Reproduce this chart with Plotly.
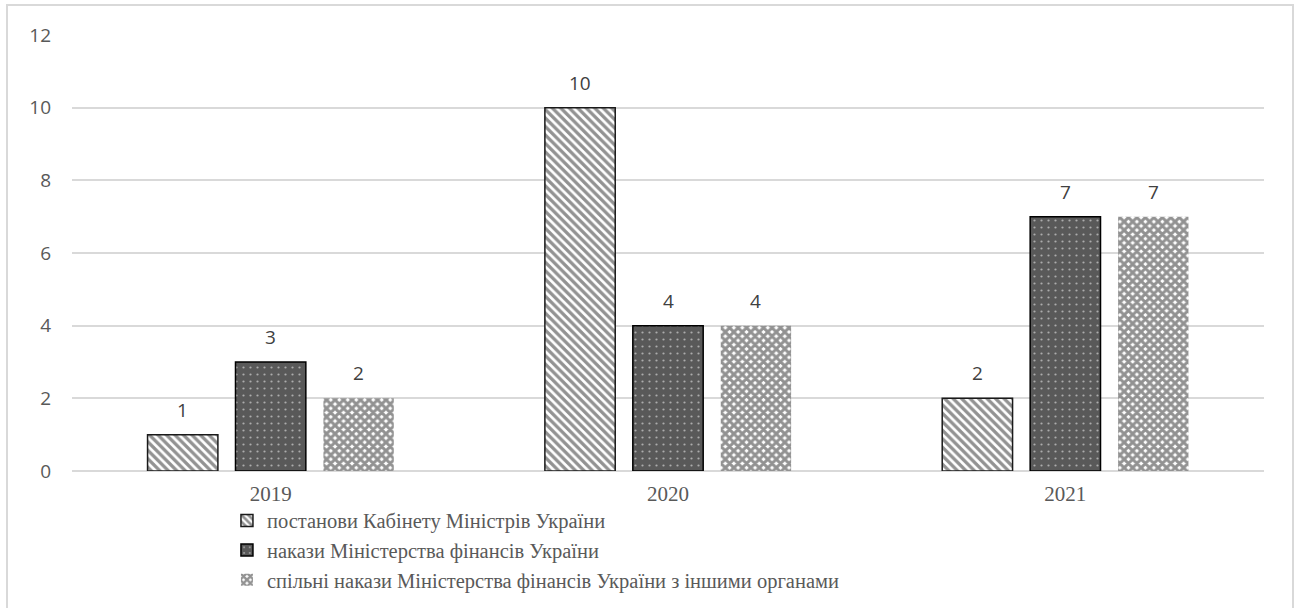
import plotly.graph_objects as go

years = ["2019", "2020", "2021"]
series_names = [
    "постанови Кабінету Міністрів України",
    "накази Міністерства фінансів України",
    "спільні накази Міністерства фінансів України з іншими органами",
]
resolutions = [1, 10, 2]
minfin_orders = [3, 4, 7]
joint_orders = [2, 4, 7]
y_ticks = [0, 2, 4, 6, 8, 10, 12]

W, H = 1299, 608
M_L, M_R, M_T, M_B = 72, 35, 35, 137
BARGAP = 0.336
BARGROUPGAP = 0.2

SANS = "Open Sans"
SERIF = "Liberation Serif"

series_values = [resolutions, minfin_orders, joint_orders]
styles = [
    dict(color="white", line=dict(color="#1a1a1a", width=1.5),
         pattern=dict(shape="\\", fgcolor="#262626", bgcolor="white",
                      size=6, solidity=0.55)),
    dict(color="#595959", line=dict(color="#000000", width=1.5),
         pattern=dict(shape=".", fgcolor="white", bgcolor="#595959",
                      size=7, solidity=0.08)),
    dict(color="white", line=dict(color="white", width=0),
         pattern=dict(shape="x", fgcolor="#262626", bgcolor="white",
                      size=6, solidity=0.75)),
]

fig = go.Figure()
for name, vals, st in zip(series_names, series_values, styles):
    fig.add_trace(go.Bar(
        x=years, y=vals, name=name, marker=st, hoverinfo="skip",
    ))

# value labels above each bar, placed at the bar's own slot within the group
n = len(series_values)
slot = (1 - BARGAP) / n
for j, vals in enumerate(series_values):
    for i, v in enumerate(vals):
        fig.add_annotation(
            x=i + (j - (n - 1) / 2) * slot, y=v, xref="x", yref="y",
            text=str(v), showarrow=False, yshift=25,
            font=dict(family=SANS, size=19, color="#404040"),
        )

# light frame around the whole chart
plot_w = W - M_L - M_R
plot_h = H - M_T - M_B
fig.add_shape(
    type="rect", xref="paper", yref="paper",
    x0=(7 - M_L) / plot_w, x1=(1293 - M_L) / plot_w,
    y0=-(612 - (H - M_B)) / plot_h, y1=1 + (M_T - 5) / plot_h,
    line=dict(color="#d9d9d9", width=2), fillcolor="rgba(0,0,0,0)",
    layer="below",
)

fig.update_layout(
    width=W, height=H,
    margin=dict(l=M_L, r=M_R, t=M_T, b=M_B, autoexpand=False),
    paper_bgcolor="white", plot_bgcolor="white",
    barmode="group", bargap=BARGAP, bargroupgap=BARGROUPGAP,
    showlegend=True,
    legend=dict(
        orientation="v", x=0.130, xanchor="left", y=-0.068, yanchor="top",
        font=dict(family=SERIF, size=20.5, color="#595959"),
        bgcolor="rgba(0,0,0,0)", tracegroupgap=0,
    ),
    xaxis=dict(
        type="category", showgrid=False, showline=False, ticks="",
        tickfont=dict(family=SERIF, size=21, color="#595959"),
        ticklabelstandoff=8, fixedrange=True,
    ),
    yaxis=dict(
        range=[0, 12], tickvals=y_ticks, ticks="", showline=False,
        gridcolor="#d9d9d9", gridwidth=1.5, zeroline=True,
        zerolinecolor="#d9d9d9", zerolinewidth=1.5,
        tickfont=dict(family=SANS, size=19, color="#595959"),
        ticklabelstandoff=20, fixedrange=True,
    ),
)

fig.write_html("out.html")
